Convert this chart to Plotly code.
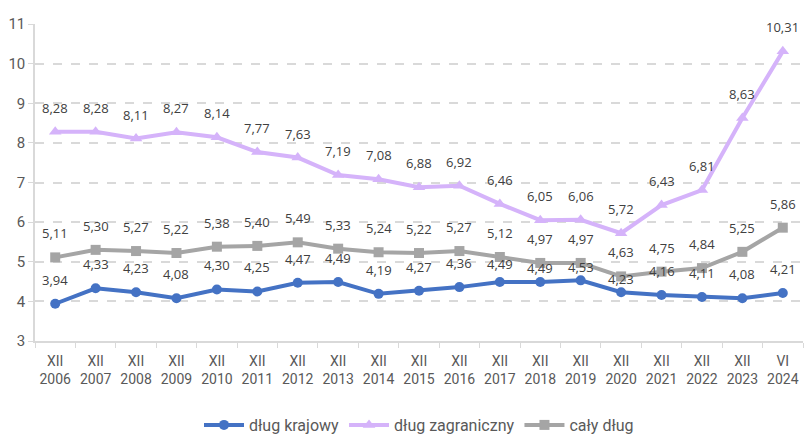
import plotly.graph_objects as go

months = ["XII"] * 18 + ["VI"]
years = [str(y) for y in range(2006, 2024)] + ["2024"]
categories = [m + "<br>" + y for m, y in zip(months, years)]

dlug_krajowy = [3.94, 4.33, 4.23, 4.08, 4.30, 4.25, 4.47, 4.49, 4.19, 4.27,
                4.36, 4.49, 4.49, 4.53, 4.23, 4.16, 4.11, 4.08, 4.21]
dlug_zagraniczny = [8.28, 8.28, 8.11, 8.27, 8.14, 7.77, 7.63, 7.19, 7.08, 6.88,
                    6.92, 6.46, 6.05, 6.06, 5.72, 6.43, 6.81, 8.63, 10.31]
caly_dlug = [5.11, 5.30, 5.27, 5.22, 5.38, 5.40, 5.49, 5.33, 5.24, 5.22,
             5.27, 5.12, 4.97, 4.97, 4.63, 4.75, 4.84, 5.25, 5.86]

series = [
    ("dług krajowy", dlug_krajowy, "#4472C4", "circle", 10),
    ("dług zagraniczny", dlug_zagraniczny, "#D5B3FA", "triangle-up", 11),
    ("cały dług", caly_dlug, "#A5A5A5", "square", 10),
]

# a few labels of the domestic series sit lower in the original (crowded spot)
label_shift = {("dług krajowy", 11): 18, ("dług krajowy", 12): 14,
               ("dług krajowy", 13): 13, ("dług krajowy", 14): 13}

fig = go.Figure()
for name, vals, color, symbol, msize in series:
    fig.add_trace(go.Scatter(
        x=categories, y=vals, name=name,
        mode="lines+markers",
        line=dict(color=color, width=4),
        marker=dict(color=color, symbol=symbol, size=msize),
        cliponaxis=False,
    ))
    for i, (c, v) in enumerate(zip(categories, vals)):
        fig.add_annotation(
            x=c, y=v, text=f"{v:.2f}".replace(".", ","),
            showarrow=False, yshift=label_shift.get((name, i), 24),
            font=dict(color="#404040", size=13, family="Open Sans, sans-serif"),
        )

fig.update_layout(
    width=806, height=435,
    margin=dict(l=35, r=3, t=24, b=94, autoexpand=False),
    paper_bgcolor="white", plot_bgcolor="white",
    font=dict(family="Roboto, sans-serif", color="#595959", size=14),
    showlegend=True,
    legend=dict(orientation="h", x=0.5, xanchor="center", y=-0.265, yanchor="middle",
                font=dict(size=16, color="#595959"), itemwidth=40),
)
fig.update_xaxes(
    range=[-0.5, len(categories) - 0.5],
    showgrid=False, showline=True, linecolor="#D9D9D9", linewidth=1.5,
    ticks="outside", tickson="boundaries", ticklen=5, tickcolor="#D9D9D9",
    tickangle=0, automargin=False, ticklabelstandoff=6,
    tickfont=dict(size=14, color="#595959"),
)
fig.update_yaxes(
    range=[3, 11], dtick=1, showline=True, linecolor="#D9D9D9", linewidth=1.5,
    gridcolor="#D9D9D9", griddash="dash", gridwidth=1.5,
    ticks="outside", ticklen=5, tickcolor="#D9D9D9", automargin=False,
    tickfont=dict(size=15, color="#595959"), zeroline=False,
)

# drop the browser's default body margin so the figure fills the window
fig.write_html("out.html", config={"displayModeBar": False},
               post_script="document.body.style.margin='0';")
